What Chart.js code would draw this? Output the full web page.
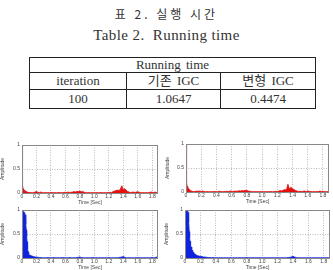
<!DOCTYPE html>
<html>
<head>
<meta charset="utf-8">
<script src="https://cdn.jsdelivr.net/npm/chart.js@4/dist/chart.umd.min.js"></script>
<style>
  body { margin: 0; width: 333px; height: 270px; background: #fff; position: relative; overflow: hidden;
         font-family: "Liberation Serif", "Noto Sans CJK KR", serif; color: #222; }
  .cap { position: absolute; left: 0; width: 333px; text-align: center; white-space: pre; }
  #cap1 { top: 6px; font-family: "Noto Sans CJK KR"; font-size: 12px; letter-spacing: 3px; line-height: 16px; color: #333; }
  #cap2 { top: 26px; font-size: 15px; letter-spacing: 0.4px; line-height: 18px; color: #333; }
  table { position: absolute; left: 29px; top: 57px; width: 287px; border-collapse: collapse; font-size: 13px; color: #333; }
  td { border: 1px solid #222; text-align: center; padding: 0; line-height: 14px; word-spacing: 2px; }
  .box { position: absolute; }
</style>
</head>
<body>
<div class="cap" id="cap1">표 2. 실행 시간</div>
<div class="cap" id="cap2">Table 2.  Running time</div>
<table>
  <tr style="height:15px"><td colspan="3">Running time</td></tr>
  <tr style="height:17px"><td style="width:96px">iteration</td><td style="width:93px">기존 IGC</td><td>변형 IGC</td></tr>
  <tr style="height:19px"><td>100</td><td>1.0647</td><td>0.4474</td></tr>
</table>

<div class="box" style="left:0;top:140px;width:160px;height:66px"><canvas id="c1"></canvas></div>
<div class="box" style="left:165px;top:139px;width:168px;height:66px"><canvas id="c2"></canvas></div>
<div class="box" style="left:0;top:205px;width:160px;height:66px"><canvas id="c3"></canvas></div>
<div class="box" style="left:164px;top:205px;width:169px;height:66px"><canvas id="c4"></canvas></div>

<script>
// time axis (sec)
const times = [0, 0.005, 0.01, 0.015, 0.02, 0.025, 0.03, 0.035, 0.04, 0.045, 0.05, 0.055, 0.06, 0.065, 0.07, 0.075, 0.08, 0.085, 0.09, 0.095, 0.1,
  0.12, 0.14, 0.16, 0.18, 0.2, 0.22, 0.24, 0.26, 0.28, 0.3,
  0.32, 0.34, 0.36, 0.38, 0.4, 0.42, 0.44, 0.46, 0.48, 0.5,
  0.52, 0.54, 0.56, 0.58, 0.6, 0.62, 0.64, 0.66, 0.68, 0.7,
  0.72, 0.74, 0.76, 0.78, 0.8, 0.82, 0.84, 0.86, 0.88, 0.9,
  0.92, 0.94, 0.96, 0.98, 1, 1.02, 1.04, 1.06, 1.08, 1.1,
  1.12, 1.14, 1.16, 1.18, 1.2, 1.22, 1.24, 1.26, 1.28, 1.3,
  1.32, 1.34, 1.36, 1.38, 1.4, 1.42, 1.44, 1.46, 1.48, 1.5,
  1.52, 1.54, 1.56, 1.58, 1.6, 1.62, 1.64, 1.66, 1.68, 1.7,
  1.72, 1.74, 1.76, 1.78, 1.8, 1.82, 1.84, 1.86, 1.88];

// top-left (red)
const redLeft = [1, 0.42, 0.16, 0.09, 0.06, 0.08, 0.05, 0.06, 0.03, 0.04, 0.03, 0.04, 0.02, 0.03, 0.02, 0.02, 0.01, 0.02, 0.01, 0.01, 0.01,
  0.01, 0.005, 0.01, 0.02, 0.03, 0.015, 0.01, 0.02, 0.01, 0.005,
  0.01, 0.005, 0.01, 0.005, 0.01, 0.01, 0.005, 0.01, 0.005, 0.01,
  0.01, 0.005, 0.01, 0.01, 0.015, 0.01, 0.02, 0.01, 0.015, 0.02,
  0.03, 0.02, 0.035, 0.03, 0.04, 0.025, 0.03, 0.015, 0.01, 0.005,
  0.01, 0.005, 0.01, 0.005, 0.01, 0.005, 0.01, 0.005, 0.01, 0.01,
  0.005, 0.01, 0.005, 0.01, 0.01, 0.015, 0.01, 0.03, 0.04, 0.05,
  0.06, 0.05, 0.08, 0.15, 0.07, 0.09, 0.06, 0.03, 0.02, 0.01,
  0.015, 0.02, 0.01, 0.02, 0.025, 0.015, 0.01, 0.005, 0.01, 0.005,
  0.01, 0.005, 0.01, 0.02, 0.015, 0.01, 0.02, 0.01, 0.005];

// top-right (red)
const redRight = [1, 0.5, 0.2, 0.12, 0.08, 0.1, 0.06, 0.07, 0.05, 0.04, 0.04, 0.03, 0.03, 0.02, 0.02, 0.02, 0.01, 0.02, 0.01, 0.01, 0.01,
  0.01, 0.02, 0.015, 0.02, 0.01, 0.02, 0.01, 0.005, 0.01, 0.005,
  0.01, 0.005, 0.01, 0.01, 0.005, 0.01, 0.015, 0.01, 0.005, 0.01,
  0.01, 0.015, 0.01, 0.02, 0.015, 0.01, 0.02, 0.015, 0.02, 0.025,
  0.02, 0.03, 0.025, 0.035, 0.03, 0.02, 0.015, 0.01, 0.005, 0.01,
  0.005, 0.01, 0.005, 0.01, 0.005, 0.01, 0.005, 0.01, 0.005, 0.01,
  0.01, 0.005, 0.01, 0.015, 0.01, 0.02, 0.03, 0.02, 0.04, 0.05,
  0.04, 0.16, 0.06, 0.1, 0.07, 0.05, 0.03, 0.02, 0.01, 0.015,
  0.01, 0.015, 0.02, 0.01, 0.02, 0.015, 0.01, 0.005, 0.01, 0.005,
  0.01, 0.01, 0.02, 0.01, 0.015, 0.01, 0.005, 0.01, 0.005];

// bottom-left (blue)
const blueLeft = [0.97, 0.98, 0.96, 0.97, 0.95, 0.96, 0.94, 0.95, 0.93, 0.9, 0.82, 0.7, 0.58, 0.45, 0.34, 0.25, 0.18, 0.13, 0.1, 0.08, 0.07,
  0.05, 0.04, 0.03, 0.02, 0.02, 0.015, 0.01, 0.01, 0.005, 0.005,
  0.005, 0.005, 0.01, 0.005, 0.005, 0.005, 0.01, 0.005, 0.005, 0.005,
  0.005, 0.005, 0.01, 0.005, 0.005, 0.005, 0.005, 0.01, 0.005, 0.005,
  0.005, 0.005, 0.01, 0.015, 0.02, 0.01, 0.005, 0.005, 0.005, 0.005,
  0.005, 0.005, 0.005, 0.01, 0.005, 0.005, 0.005, 0.005, 0.005, 0.005,
  0.005, 0.005, 0.005, 0.005, 0.01, 0.005, 0.005, 0.005, 0.005, 0.005,
  0.005, 0.01, 0.015, 0.02, 0.03, 0.015, 0.005, 0.005, 0.005, 0.005,
  0.005, 0.005, 0.005, 0.005, 0.01, 0.005, 0.005, 0.005, 0.005, 0.005,
  0.005, 0.005, 0.005, 0.005, 0.01, 0.005, 0.005, 0.02, 0.01];

// bottom-right (blue)
const blueRight = [1, 0.99, 1, 0.98, 0.99, 0.97, 0.98, 0.96, 0.95, 0.9, 0.75, 0.55, 0.42, 0.35, 0.3, 0.26, 0.23, 0.2, 0.18, 0.16, 0.14,
  0.1, 0.07, 0.05, 0.04, 0.035, 0.03, 0.02, 0.02, 0.015, 0.01,
  0.01, 0.005, 0.01, 0.005, 0.005, 0.005, 0.005, 0.005, 0.005, 0.005,
  0.005, 0.005, 0.005, 0.005, 0.005, 0.005, 0.005, 0.005, 0.005, 0.005,
  0.005, 0.005, 0.005, 0.005, 0.01, 0.005, 0.005, 0.005, 0.005, 0.005,
  0.005, 0.005, 0.005, 0.005, 0.005, 0.005, 0.005, 0.005, 0.005, 0.005,
  0.005, 0.005, 0.005, 0.005, 0.005, 0.005, 0.005, 0.005, 0.005, 0.005,
  0.005, 0.01, 0.015, 0.02, 0.035, 0.02, 0.01, 0.005, 0.005, 0.005,
  0.005, 0.005, 0.005, 0.005, 0.005, 0.005, 0.005, 0.005, 0.005, 0.005,
  0.005, 0.005, 0.005, 0.005, 0.005, 0.005, 0.005, 0.005, 0.005];

const xMax = 1.88;

// box round the plot area
const frame = {
  id: "frame",
  afterDraw(chart) {
    const { ctx, chartArea: a } = chart;
    ctx.save();
    ctx.strokeStyle = "#888";
    ctx.lineWidth = 1;
    ctx.strokeRect(Math.round(a.left) + 0.5, Math.round(a.top) + 0.5,
      Math.round(a.right - a.left) - 1, Math.round(a.bottom - a.top));
    ctx.restore();
  },
};

function makeChart(id, values, color, yWidth, padRight) {
  const tiny = { size: 5, family: "Liberation Sans" };
  return new Chart(document.getElementById(id), {
    type: "line",
    data: {
      datasets: [{
        data: times.map((t, i) => ({ x: t, y: values[i] })),
        borderColor: color,
        backgroundColor: color,
        borderWidth: 0.8,
        pointRadius: 0,
        fill: "origin",
      }],
    },
    options: {
      responsive: true,
      maintainAspectRatio: false,
      animation: false,
      layout: { padding: { top: 5, right: padRight, left: 0, bottom: 0 } },
      plugins: { legend: { display: false }, tooltip: { enabled: false } },
      scales: {
        x: {
          type: "linear",
          min: 0,
          max: xMax,
          ticks: { stepSize: 0.2, includeBounds: false, font: tiny, color: "#444", padding: 1, maxRotation: 0 },
          grid: { color: "#aaa", drawTicks: false, lineWidth: 0.8 },
          border: { display: false, dash: [1, 1.5] },
          title: { display: true, text: "Time [Sec]", font: tiny, color: "#444", padding: 0 },
          afterFit: (s) => { s.height = 13; },
        },
        y: {
          min: 0,
          max: 1,
          ticks: { stepSize: 0.5, font: tiny, color: "#444", padding: 2, callback: (v) => String(v) },
          grid: { color: "#aaa", drawTicks: false, lineWidth: 0.8 },
          border: { display: false, dash: [1, 1.5] },
          title: { display: true, text: "Amplitude", font: tiny, color: "#444", padding: 0 },
          afterFit: (s) => { s.width = yWidth; },
        },
      },
    },
    plugins: [frame],
  });
}

makeChart("c1", redLeft, "#e41010", 22, 2);
makeChart("c2", redRight, "#e41010", 21, 4);
makeChart("c3", blueLeft, "#1024e0", 22, 2);
makeChart("c4", blueRight, "#1024e0", 21, 3);
</script>
</body>
</html>
